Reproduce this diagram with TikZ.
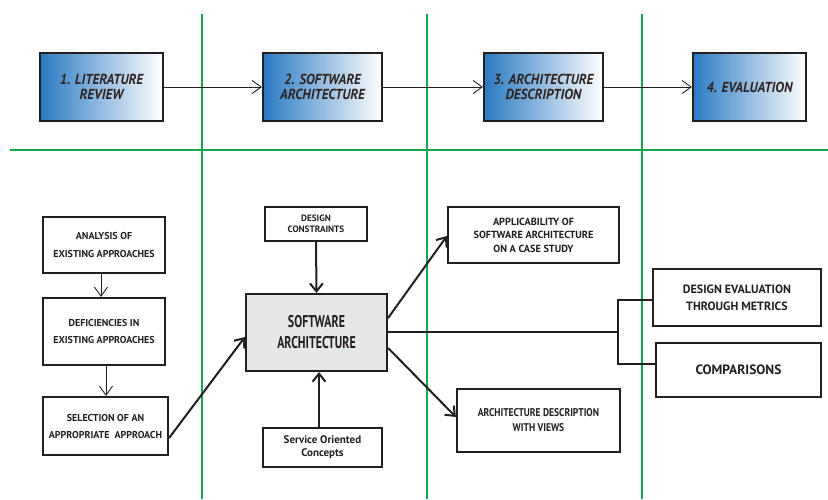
\documentclass[tikz,border=0pt]{standalone}
\usepackage{fontspec}
\setmainfont{PT Sans}
\newfontfamily\condA{PT Sans}[FakeStretch=0.92]
\newfontfamily\condC{PT Sans}[FakeStretch=0.85]
\newfontfamily\condB{PT Sans}[FakeStretch=0.7]
\usetikzlibrary{arrows.meta}
\definecolor{grn}{HTML}{14A84E}
\definecolor{ink}{HTML}{231F20}
\definecolor{txt}{HTML}{2E2321}
\definecolor{blu}{HTML}{2A7AC2}
\definecolor{sagray}{HTML}{E6E7E8}
\tikzset{
  phase/.style={draw=ink, line width=2.2pt, left color=blu, right color=white,
    align=center, text=txt, font=\condA\fontsize{14.5}{15.5}\selectfont\bfseries\itshape,
    inner sep=0pt},
  box/.style={draw=ink, line width=2.2pt, fill=white, align=center, text=ink,
    font=\fontsize{10}{17.5}\selectfont\bfseries, inner sep=0pt},
  sabox/.style={box, fill=sagray, font=\condB\fontsize{17}{21}\selectfont\bfseries},
  thinarrow/.style={draw=ink, line width=0.9pt, -{Straight Barb[length=9pt,width=13pt,line width=0.9pt]}},
  thickarrow/.style={draw=ink, line width=2pt, -{Straight Barb[length=8pt,width=13pt,line width=2pt]}},
  conn/.style={draw=ink, line width=2pt},
  grid/.style={draw=grn, line width=2.2pt}
}
\begin{document}
\begin{tikzpicture}[x=1pt,y=-1pt]
\useasboundingbox (0,0) rectangle (828,499);
% green grid
\coordinate (h1) at (10,150);
\coordinate (h2) at (828,150);
\coordinate (v1t) at (202,14);
\coordinate (v1b) at (202,499);
\coordinate (v2t) at (427,14);
\coordinate (v2b) at (427,499);
\coordinate (v3t) at (642,14);
\coordinate (v3b) at (642,499);
\draw[grid] (h1) -- (h2);
\draw[grid] (v1t) -- (v1b);
\draw[grid] (v2t) -- (v2b);
\draw[grid] (v3t) -- (v3b);

% top phases
\node[phase, minimum width=123pt, minimum height=68pt] (b1) at (101.5,87) {1. LITERATURE\\REVIEW};
\node[phase, minimum width=119pt, minimum height=68pt] (b2) at (322.5,87) {2. SOFTWARE\\ARCHITECTURE};
\node[phase, minimum width=119pt, minimum height=68pt] (b3) at (543.5,87) {3. ARCHITECTURE\\DESCRIPTION};
\node[phase, minimum width=113pt, minimum height=68pt] (b4) at (749.5,87) {4. EVALUATION};
\draw[thinarrow] (b1) -- (b2);
\draw[thinarrow] (b2) -- (b3);
\draw[thinarrow] (b3) -- (b4);

% left column
\node[box, minimum width=122pt, minimum height=56pt] (a1) at (104,245) {ANALYSIS OF\\EXISTING APPROACHES};
\node[box, minimum width=122pt, minimum height=67pt, font=\fontsize{10}{17}\selectfont\bfseries] (a2) at (104,331.5) {DEFICIENCIES IN\\EXISTING APPROACHES};
\node[box, minimum width=125pt, minimum height=58pt, font=\fontsize{10}{17}\selectfont\bfseries] (a3) at (105.5,426) {SELECTION OF AN\\APPROPRIATE\ \ APPROACH};
\draw[thinarrow] ([xshift=-3pt]a1.south) -- ([xshift=-3pt]a2.north);
\draw[thinarrow] ([xshift=2pt]a2.south) -- ([xshift=0.5pt]a3.north);

% central
\node[sabox, minimum width=141pt, minimum height=77pt] (sa) at (316.5,332.5) {SOFTWARE\\ARCHITECTURE};
\node[box, minimum width=102pt, minimum height=34pt, font=\fontsize{9.2}{11}\selectfont\bfseries] (dc) at (316,224) {DESIGN\\CONSTRAINTS};
\node[box, minimum width=119pt, minimum height=39pt, font=\fontsize{11}{13}\selectfont\bfseries] (soc) at (322.5,447.5) {Service Oriented\\Concepts};
\draw[thickarrow] ([yshift=-12pt]a3.east) -- ([yshift=-4.5pt]sa.west);
\draw[thickarrow] (dc.south) -- (sa.north);
\draw[thickarrow] ([xshift=-3.5pt]soc.north) -- ([xshift=2.5pt]sa.south);

% right of SA
\node[box, minimum width=171pt, minimum height=56pt, font=\fontsize{10.3}{13.5}\selectfont\bfseries] (app) at (533.5,235) {APPLICABILITY OF\\SOFTWARE ARCHITECTURE\\ON A CASE STUDY};
\node[box, minimum width=163pt, minimum height=63pt, font=\condC\fontsize{11.2}{15}\selectfont\bfseries] (adv) at (538.5,420.5) {ARCHITECTURE DESCRIPTION\\WITH\ VIEWS};
\draw[thickarrow] ([yshift=14.5pt]sa.east) -- ([yshift=-1pt]app.west);
\draw[thickarrow] ([yshift=-15.5pt]sa.east) -- ([yshift=3.5pt]adv.west);

\node[box, minimum width=168pt, minimum height=57pt, font=\fontsize{12}{16.7}\selectfont\bfseries] (de) at (737,297.5) {DESIGN EVALUATION\\THROUGH METRICS};
\node[box, minimum width=165pt, minimum height=54pt, font=\fontsize{13.5}{16.5}\selectfont\bfseries] (cmp) at (738.5,370) {COMPARISONS};
\coordinate (j) at (618,332);
\draw[conn] ([yshift=0.5pt]sa.east) -- (j);
\draw[conn] ([yshift=-2.5pt]de.west) -| (j);
\draw[conn] ([yshift=6pt]cmp.west) -| (j);
\end{tikzpicture}
\end{document}
